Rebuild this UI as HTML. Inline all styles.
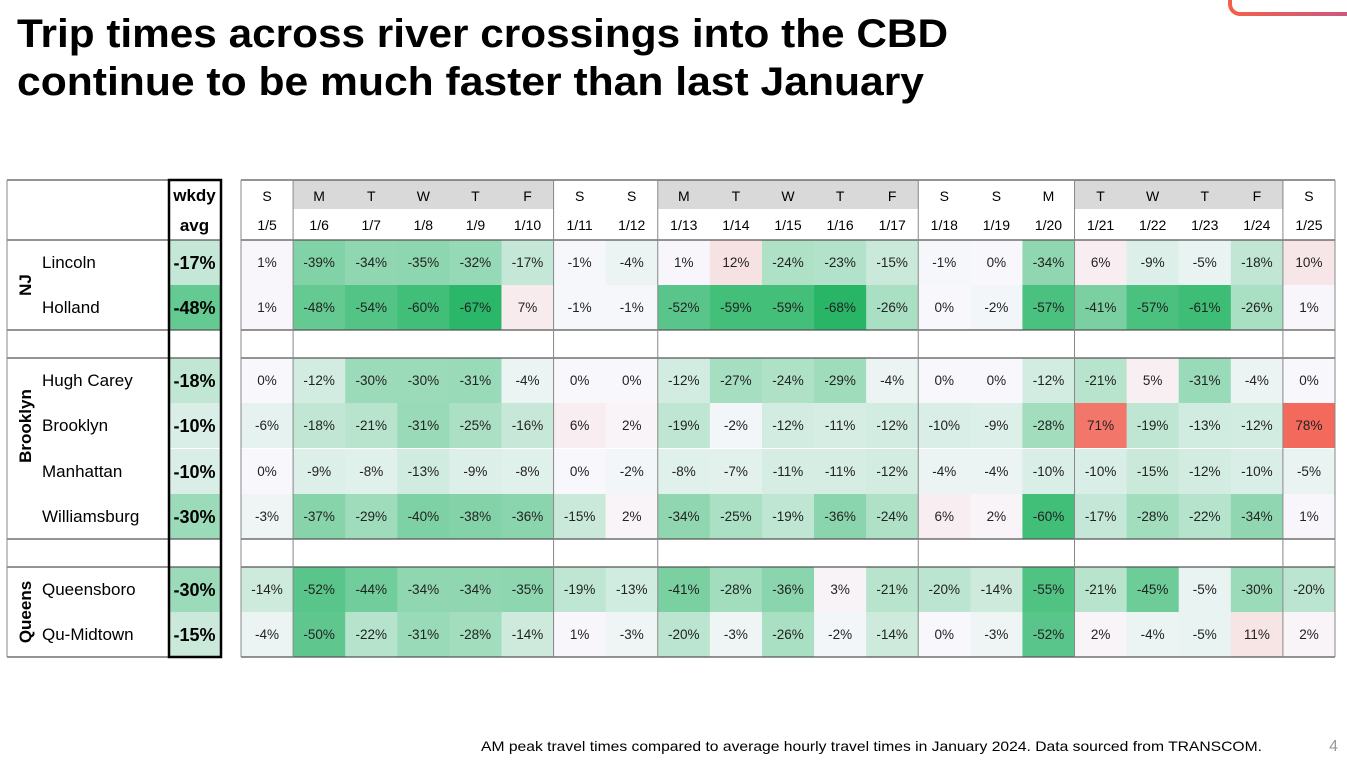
<!DOCTYPE html>
<html><head><meta charset="utf-8"><style>
body{margin:0;background:#fff;width:1347px;height:764px;overflow:hidden;font-family:"Liberation Sans",sans-serif}
svg{position:absolute;left:0;top:0}
</style></head><body>
<svg id="chart" width="1347" height="764">
<defs><linearGradient id="og" x1="0" x2="1"><stop offset="0" stop-color="#f2604a"/><stop offset="1" stop-color="#c2578b"/></linearGradient></defs>
<rect x="1230" y="-20" width="140" height="34" rx="10" fill="none" stroke="url(#og)" stroke-width="4"/>
<text x="17" y="47" font-size="40" font-weight="bold" fill="#000" textLength="931" lengthAdjust="spacingAndGlyphs">Trip times across river crossings into the CBD</text>
<text x="17" y="95" font-size="40" font-weight="bold" fill="#000" textLength="907" lengthAdjust="spacingAndGlyphs">continue to be much faster than last January</text>
<text x="481" y="751" font-size="14" fill="#000" textLength="781" lengthAdjust="spacingAndGlyphs">AM peak travel times compared to average hourly travel times in January 2024. Data sourced from TRANSCOM.</text>
<text x="1338" y="751" font-size="16" text-anchor="end" fill="#999">4</text>
<g id="tbl"></g>
</svg>
<script>
const days=["S","M","T","W","T","F","S","S","M","T","W","T","F","S","S","M","T","W","T","F","S"];
const dates=["1/5","1/6","1/7","1/8","1/9","1/10","1/11","1/12","1/13","1/14","1/15","1/16","1/17","1/18","1/19","1/20","1/21","1/22","1/23","1/24","1/25"];
const grayHeader=[0,1,1,1,1,1,0,0,1,1,1,1,1,0,0,0,1,1,1,1,0];
const crossings=["Lincoln","Holland","Hugh Carey","Brooklyn","Manhattan","Williamsburg","Queensboro","Qu-Midtown"];
const wkdyAvg=[-17,-48,-18,-10,-10,-30,-30,-15];
const lincoln=[1,-39,-34,-35,-32,-17,-1,-4,1,12,-24,-23,-15,-1,0,-34,6,-9,-5,-18,10];
const holland=[1,-48,-54,-60,-67,7,-1,-1,-52,-59,-59,-68,-26,0,-2,-57,-41,-57,-61,-26,1];
const hughCarey=[0,-12,-30,-30,-31,-4,0,0,-12,-27,-24,-29,-4,0,0,-12,-21,5,-31,-4,0];
const brooklyn=[-6,-18,-21,-31,-25,-16,6,2,-19,-2,-12,-11,-12,-10,-9,-28,71,-19,-13,-12,78];
const manhattan=[0,-9,-8,-13,-9,-8,0,-2,-8,-7,-11,-11,-12,-4,-4,-10,-10,-15,-12,-10,-5];
const williamsburg=[-3,-37,-29,-40,-38,-36,-15,2,-34,-25,-19,-36,-24,6,2,-60,-17,-28,-22,-34,1];
const queensboro=[-14,-52,-44,-34,-34,-35,-19,-13,-41,-28,-36,3,-21,-20,-14,-55,-21,-45,-5,-30,-20];
const quMidtown=[-4,-50,-22,-31,-28,-14,1,-3,-20,-3,-26,-2,-14,0,-3,-52,2,-4,-5,11,2];
const values=[lincoln,holland,hughCarey,brooklyn,manhattan,williamsburg,queensboro,quMidtown];

const NS="http://www.w3.org/2000/svg", g=document.getElementById("tbl");
function el(t,a,txt){const e=document.createElementNS(NS,t);for(const k in a)e.setAttribute(k,a[k]);if(txt!==undefined)e.textContent=txt;g.appendChild(e);return e;}
const rowTop=[240,285,358,403,449,494,567,612], RH=45;
const X0=241,X1=1335,CW=(X1-X0)/21;
const colX=i=>X0+i*CW;
function color(v){
  const a=[248,248,252];let b,t;
  if(v<0){b=[34,180,98];t=Math.min(1,-v/70);}else{b=[243,105,92];t=Math.min(1,v/78);}
  return `rgb(${a.map((c,i)=>Math.round(c+(b[i]-c)*t)).join(",")})`;
}
days.forEach((d,i)=>{
  if(grayHeader[i]){const r=el("rect",{x:colX(i),y:180,width:CW+0.5,height:29,fill:"#d9d9d9"});
  
  }
  const t=el("text",{x:colX(i)+CW/2,y:201,"font-size":14,"text-anchor":"middle"},d);
  
  
  const t2=el("text",{x:colX(i)+CW/2,y:230,"font-size":14,"text-anchor":"middle"},dates[i]);
  
  
});
values.forEach((row,r)=>{
  const y=rowTop[r];
  const nm=el("text",{x:42,y:y+28,"font-size":17},crossings[r]);
  
  
  const ar=el("rect",{x:168,y:y,width:53,height:RH,fill:color(wkdyAvg[r])});
  
  
  const at=el("text",{x:194.5,y:y+29,"font-size":18,"font-weight":"bold","text-anchor":"middle"},wkdyAvg[r]+"%");
  
  
  row.forEach((v,i)=>{
    const c=el("rect",{x:colX(i),y:y,width:CW+0.5,height:RH,fill:color(v)});
    
    
    const t=el("text",{x:colX(i)+CW/2,y:y+27,"font-size":13.5,"text-anchor":"middle",fill:"#222"},v+"%");
    
    
  });
});
[180,240,330,358,539,567,657].forEach(y=>{
  el("line",{x1:7,x2:221,y1:y,y2:y,stroke:"#555","stroke-width":1.2});
  el("line",{x1:241,x2:X1,y1:y,y2:y,stroke:"#555","stroke-width":1.2});
});
[7,X1,241].forEach(x=>el("line",{x1:x,x2:x,y1:180,y2:657,stroke:"#888","stroke-width":1}));
[1,6,8,13,16,20].forEach(i=>el("line",{x1:colX(i),x2:colX(i),y1:180,y2:657,stroke:"#888","stroke-width":1}));
el("rect",{x:169,y:180,width:52,height:477,fill:"none",stroke:"#000","stroke-width":2.5});
const h1=el("text",{x:194.5,y:201,"font-size":17,"font-weight":"bold","text-anchor":"middle"},"wkdy");


const h2=el("text",{x:194.5,y:231,"font-size":17,"font-weight":"bold","text-anchor":"middle"},"avg");


[["NJ",285],["Brooklyn",426],["Queens",612]].forEach(([n,cy])=>{
  const t=el("text",{x:0,y:0,"font-size":17,"font-weight":"bold","text-anchor":"middle",transform:`translate(31,${cy}) rotate(-90)`},n);
  
  
});
</script>
</body></html>
